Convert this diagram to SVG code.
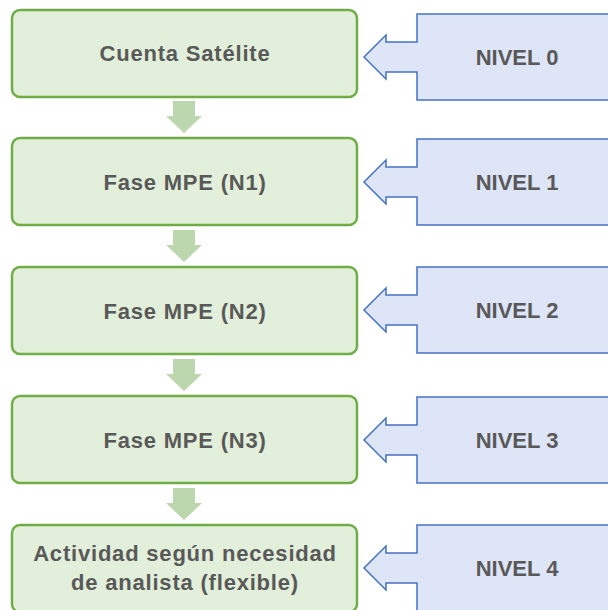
<svg xmlns="http://www.w3.org/2000/svg" width="608" height="610" viewBox="0 0 608 610">
<style>
.box{fill:#e2efda;stroke:#70ad47;stroke-width:2.5}
.lvl{fill:#dee5f7;stroke:#4472c4;stroke-width:1.5}
.down{fill:#bcd6ad}
text{font-family:"Liberation Sans","DejaVu Sans",sans-serif;font-weight:bold;fill:#595959;font-size:22px;text-anchor:middle}
.g{letter-spacing:0.8px}
</style>
<rect width="608" height="610" fill="#ffffff"/>
<g id="connectors">
<path class="down" d="M173,101 H195 V116 H202 L184,133 L166,116 H173 Z"/>
<path class="down" d="M173,230 H195 V245 H202 L184,262 L166,245 H173 Z"/>
<path class="down" d="M173,359 H195 V374 H202 L184,391 L166,374 H173 Z"/>
<path class="down" d="M173,488 H195 V503 H202 L184,520 L166,503 H173 Z"/>
</g>
<g id="n0"><rect class="box" x="12" y="10" width="345" height="87" rx="8"/><text class="g" x="185" y="61">Cuenta Satélite</text></g>
<g id="n1"><rect class="box" x="12" y="138" width="345" height="87" rx="8"/><text class="g" x="185" y="190">Fase MPE (N1)</text></g>
<g id="n2"><rect class="box" x="12" y="267" width="345" height="87" rx="8"/><text class="g" x="185" y="319">Fase MPE (N2)</text></g>
<g id="n3"><rect class="box" x="12" y="396" width="345" height="87" rx="8"/><text class="g" x="185" y="448">Fase MPE (N3)</text></g>
<g id="n4"><rect class="box" x="12" y="525" width="345" height="87" rx="8"/><text class="g" x="185" y="561">Actividad según necesidad</text><text class="g" x="185" y="590">de analista (flexible)</text></g>
<g id="l0"><path class="lvl" d="M610,14 H417 V42 H386 V35 L364,57 L386,79 V72 H417 V100 H610"/><text x="517" y="65">NIVEL 0</text></g>
<g id="l1"><path class="lvl" d="M610,139 H417 V167 H386 V160 L364,182 L386,204 V197 H417 V225 H610"/><text x="517" y="190">NIVEL 1</text></g>
<g id="l2"><path class="lvl" d="M610,267 H417 V295 H386 V288 L364,310 L386,332 V325 H417 V353 H610"/><text x="517" y="318">NIVEL 2</text></g>
<g id="l3"><path class="lvl" d="M610,397 H417 V425 H386 V418 L364,440 L386,462 V455 H417 V483 H610"/><text x="517" y="448">NIVEL 3</text></g>
<g id="l4"><path class="lvl" d="M610,525 H417 V553 H386 V546 L364,568 L386,590 V583 H417 V611 H610"/><text x="517" y="576">NIVEL 4</text></g>
</svg>
